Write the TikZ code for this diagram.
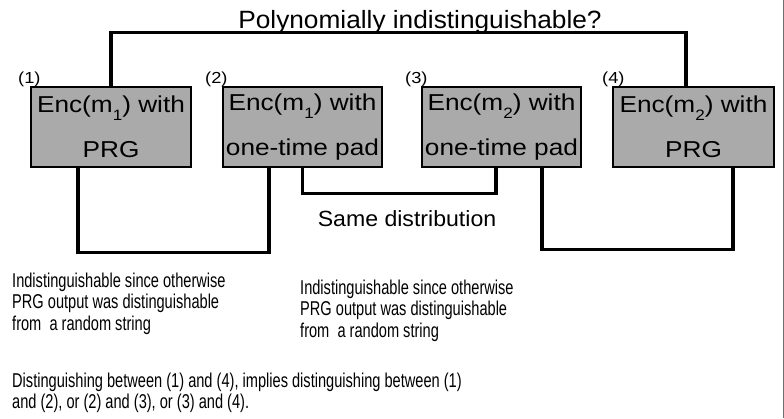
\documentclass[tikz,border=0pt]{standalone}
\usepackage{fontspec}
\setmainfont{Liberation Sans}
\newfontfamily\boxfont[FakeStretch=1.14]{Liberation Sans}
\newfontfamily\midfont[FakeStretch=1.05]{Liberation Sans}
\newfontfamily\condfont[FakeStretch=0.73]{Liberation Sans}
\newcommand\encsub[1]{\raisebox{-8pt}{\fontsize{15}{15}\selectfont #1}}
\definecolor{boxgray}{RGB}{170,170,170}
\definecolor{framegray}{RGB}{110,110,110}
\begin{document}
\begin{tikzpicture}[x=1pt,y=-1pt,
  encbox/.style={draw=black, line width=1.5pt, fill=boxgray, minimum width=160pt,
    minimum height=80pt, inner sep=0pt, align=center,
    font=\boxfont\fontsize{23}{45}\selectfont},
  link/.style={line width=3.2pt},
  num/.style={anchor=base west, inner sep=0pt, font=\boxfont\fontsize{16}{18}\selectfont},
  note/.style={anchor=north west, inner sep=0pt, align=left,
    font=\condfont\fontsize{20}{21.6}\selectfont},
  mid/.style={anchor=base, inner sep=0pt}]
\fill[white] (0,0) rectangle (784,418);
\useasboundingbox (0,0) rectangle (784,418);
\draw[framegray, line width=1pt] (783,0) -- (783,418);

\node[encbox] (b1) at (111,127) {Enc(m\encsub{1}) with\\PRG};
\node[encbox, minimum width=159pt] (b2) at (302.5,127) {Enc(m\encsub{1}) with\\one-time pad};
\node[encbox, minimum width=159pt] (b3) at (501.5,127) {Enc(m\encsub{2}) with\\one-time pad};
\node[encbox, minimum width=161pt] (b4) at (693.5,127) {Enc(m\encsub{2}) with\\PRG};

\node[num] (l1) at (18,83) {(1)};
\node[num] (l2) at (205,83) {(2)};
\node[num] (l3) at (405,83) {(3)};
\node[num] (l4) at (602,83) {(4)};

\node[mid, font=\midfont\fontsize{25}{30}\selectfont] (title) at (420,28) {Polynomially indistinguishable?};
\node[mid, font=\midfont\fontsize{22}{26}\selectfont] (same) at (407,226) {Same distribution};

\draw[link] (b1.north) -- ++(0,-54) -| ([xshift=-7.5pt]b4.north);
\draw[link] ([xshift=-33pt]b1.south) -- ++(0,85) -| ([xshift=-33.5pt]b2.south);
\draw[link] (b2.south) -- ++(0,26) -| ([xshift=-5.5pt]b3.south);
\draw[link] ([xshift=40.5pt]b3.south) -- ++(0,82) -| ([xshift=39.5pt]b4.south);

\node[note] (n1) at (12,272.4) {Indistinguishable since otherwise\\PRG output was distinguishable\\from\ \ a random string};
\node[note] (n2) at (300,279.4) {Indistinguishable since otherwise\\PRG output was distinguishable\\from\ \ a random string};
\node[note] (n3) at (12,372.3) {Distinguishing between (1) and (4), implies distinguishing between (1)\\and (2), or (2) and (3), or (3) and (4).};
\end{tikzpicture}
\end{document}
